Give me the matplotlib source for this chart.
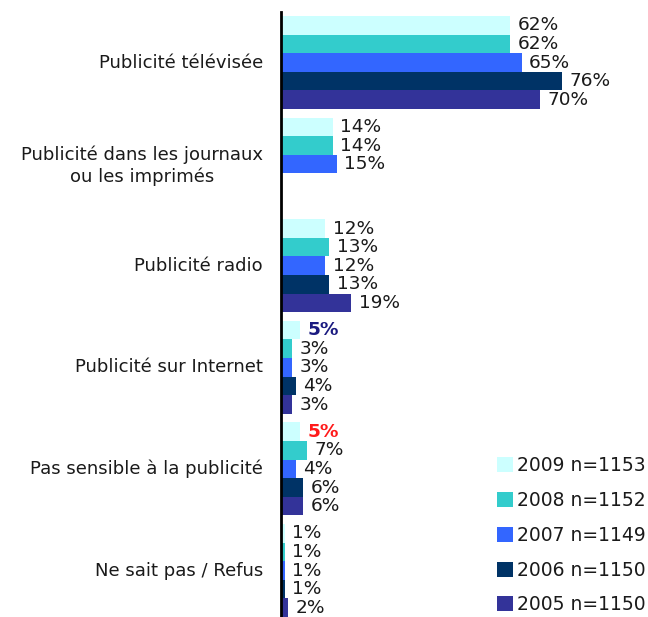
import numpy as np
import matplotlib.pyplot as plt
from matplotlib.patches import Patch

# categories top to bottom
cats = ["Publicité télévisée",
        "Publicité dans les journaux\nou les imprimés",
        "Publicité radio",
        "Publicité sur Internet",
        "Pas sensible à la publicité",
        "Ne sait pas / Refus"]

v2009 = [62, 14, 12, 5, 5, 1]
v2008 = [62, 14, 13, 3, 7, 1]
v2007 = [65, 15, 12, 3, 4, 1]
v2006 = [76, None, 13, 4, 6, 1]
v2005 = [70, None, 19, 3, 6, 2]

series = [v2009, v2008, v2007, v2006, v2005]
labels = ["2009 n=1153", "2008 n=1152", "2007 n=1149", "2006 n=1150", "2005 n=1150"]
colors = ["#CCFFFF", "#33CCCC", "#3366FF", "#003366", "#333399"]

plt.rcParams['font.family'] = ['DejaVu Sans']
txtcol = "#1a1a1a"

fig = plt.figure(figsize=(6.48, 6.17), dpi=100)
ax = fig.add_axes([281/648, 0, 333/648, 605/617])

h = 0.183
for j, vals in enumerate(series):
    for i, v in enumerate(vals):
        if v is None:
            continue
        y = i + j*h + h/2
        ax.barh(y, v, height=h, color=colors[j], linewidth=0)
        col = txtcol
        weight = 'normal'
        if j == 0 and i == 3:
            col = "#1a1a80"
            weight = 'bold'
        if j == 0 and i == 4:
            col = "#ff1a1a"
            weight = 'bold'
        ax.annotate(f"{v}%", (v, y), xytext=(5.5, 0), textcoords='offset points',
                    va='center', ha='left', fontsize=13.3, color=col, fontweight=weight)

ax.set_xlim(0, 90)
ax.set_ylim(5.915, -0.04)
ax.set_yticks([i + 2.4*h for i in range(len(cats))])
ax.set_yticklabels(cats, fontsize=13, color=txtcol)
for t in ax.get_yticklabels():
    t.set_multialignment('center')
ax.tick_params(axis='y', length=0, pad=13)
ax.set_xticks([])
for s in ['top', 'right', 'bottom']:
    ax.spines[s].set_visible(False)
ax.spines['left'].set_linewidth(2)
ax.spines['left'].set_color('black')

handles = [Patch(facecolor=c, edgecolor='none') for c in colors]
leg = fig.legend(handles, labels, loc='lower left', bbox_to_anchor=(489.5/648, -0.008),
                 frameon=False, fontsize=13.5, handlelength=0.85, handleheight=0.85,
                 handletextpad=0.2, labelspacing=0.84, borderaxespad=0)
for t in leg.get_texts():
    t.set_color(txtcol)

fig.savefig("out.png", dpi=100)
